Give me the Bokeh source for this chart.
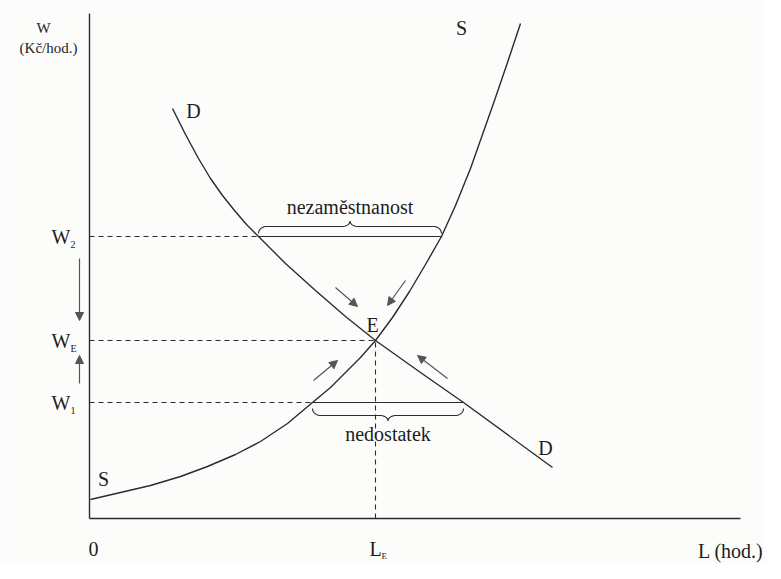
import numpy as np
from bokeh.plotting import figure
from bokeh.models import Range1d, Arrow, NormalHead
from bokeh.core.properties import value
from bokeh.embed import file_html
from bokeh.resources import INLINE

# ---- data (L in hours, W in Kč/hod., arbitrary units) ----
supply_L = [0.1, 3.1, 6.1, 9.1, 11.8, 14.6, 17.1, 19.8, 22.3, 24.1, 25.6, 27.1,
            28.6, 30.3, 32.0, 33.6, 35.2, 36.6, 38.1, 39.3, 40.5, 41.8, 43.1]
supply_W = [1.9, 2.6, 3.3, 4.2, 5.2, 6.4, 7.7, 9.5, 11.6, 13.1, 14.6, 16.1,
            17.8, 20.1, 22.7, 25.4, 28.2, 31.3, 35.0, 38.4, 41.8, 45.6, 49.5]
demand_L = [8.3, 9.6, 10.9, 12.1, 13.3, 14.5, 15.7, 16.9, 19.6, 22.6, 25.6,
            28.6, 33.1, 37.4, 46.3]
demand_W = [41.0, 38.4, 36.0, 34.0, 32.3, 30.8, 29.4, 28.2, 25.5, 22.8, 20.2,
            17.8, 14.6, 11.6, 5.1]

L_E, W_E = 28.6, 17.8          # equilibrium
W_2, W_1 = 28.2, 11.6          # wage above / below equilibrium
L_D_W2, L_S_W2 = 16.9, 35.2    # demand / supply at W2 (unemployment)
L_S_W1, L_D_W1 = 22.3, 37.4    # supply / demand at W1 (shortage)

# adjustment arrows (start L, start W, end L, end W)
arrow_x0 = [24.6, 31.6, 22.4, 35.8]
arrow_y0 = [23.1, 23.8, 13.8, 14.0]
arrow_x1 = [26.8, 29.8, 24.8, 32.8]
arrow_y1 = [21.2, 21.3, 15.8, 16.3]

AXIS_TOP = 50.5
AXIS_RIGHT = 65.1

INK = "#2b2b2b"
FONT = value("Liberation Serif")

p = figure(width=765, height=563, output_backend="svg", toolbar_location=None,
           x_range=Range1d(-8.9, 67.6), y_range=Range1d(-4.5, 51.8),
           x_axis_type=None, y_axis_type=None, min_border=0,
           background_fill_color="#fcfcfb", border_fill_color="#fcfcfb")
p.grid.visible = False
p.outline_line_color = None

# axes
p.line([0, 0], [0, AXIS_TOP], line_color=INK, line_width=1.4)
p.line([0, AXIS_RIGHT], [0, 0], line_color=INK, line_width=1.4)

# dashed guides
dash = "5 4"
p.line([0, L_D_W2], [W_2, W_2], line_color=INK, line_width=1.1, line_dash=dash)
p.line([0, L_E], [W_E, W_E], line_color=INK, line_width=1.1, line_dash=dash)
p.line([0, L_S_W1], [W_1, W_1], line_color=INK, line_width=1.1, line_dash=dash)
p.line([L_E, L_E], [0, W_E], line_color=INK, line_width=1.1, line_dash=dash)

# solid gaps
p.line([L_D_W2, L_S_W2], [W_2, W_2], line_color=INK, line_width=1.2)
p.line([L_S_W1, L_D_W1], [W_1, W_1], line_color=INK, line_width=1.2)

# curves
p.line(supply_L, supply_W, line_color=INK, line_width=1.4, line_join="round")
p.line(demand_L, demand_W, line_color=INK, line_width=1.4, line_join="round")


def brace(x0, x1, y0, d):
    """curly brace from x0 to x1, ends at y0, opening toward sign of d"""
    h1, h2, r = 0.7 * d, 1.25 * d, 0.8
    xm = (x0 + x1) / 2
    t = np.linspace(0, np.pi / 2, 12)
    xs, ys = [], []
    xs += list(x0 + r * (1 - np.cos(t))); ys += list(y0 + h1 * np.sin(t))
    xs += list(xm - r + r * np.sin(t)); ys += list(y0 + h1 + (h2 - h1) * (1 - np.cos(t)))
    xs += list(xm + r - r * np.sin(t[::-1])); ys += list(y0 + h1 + (h2 - h1) * (1 - np.cos(t[::-1])))
    xs += list(x1 - r * (1 - np.cos(t[::-1]))); ys += list(y0 + h1 * np.sin(t[::-1]))
    return xs, ys


bx, by = brace(L_D_W2, L_S_W2, W_2 + 0.3, 1.0)
p.line(bx, by, line_color=INK, line_width=1.1)
bx, by = brace(L_S_W1, L_D_W1, W_1 - 0.6, -1.0)
p.line(bx, by, line_color=INK, line_width=1.1)

# arrows
AC = "#555"
for xs, ys, xe, ye in zip(arrow_x0, arrow_y0, arrow_x1, arrow_y1):
    p.add_layout(Arrow(end=NormalHead(size=8, fill_color=AC, line_color=AC),
                       x_start=xs, y_start=ys, x_end=xe, y_end=ye,
                       line_color=AC, line_width=1.2))
p.add_layout(Arrow(end=NormalHead(size=8, fill_color=AC, line_color=AC),
                   x_start=-1.0, y_start=W_2 - 2.2, x_end=-1.0, y_end=W_E + 2.0,
                   line_color=AC, line_width=1.2))
p.add_layout(Arrow(end=NormalHead(size=8, fill_color=AC, line_color=AC),
                   x_start=-1.0, y_start=W_1 + 1.9, x_end=-1.0, y_end=W_E - 1.5,
                   line_color=AC, line_width=1.2))


def txt(x, y, s, size="20px", align="center", baseline="middle"):
    p.text(x=[x], y=[y], text=[s], text_font=FONT, text_font_size=size,
           text_color="#1e1e1e", text_align=align, text_baseline=baseline)


# curve labels
txt(supply_L[-1] - 5.9, 49.1, "S")
txt(1.4, 4.0, "S")
txt(demand_L[0] + 2.1, 40.8, "D")
txt(demand_L[-1] - 0.7, 7.1, "D")
txt(L_E - 0.3, W_E + 1.6, "E")
txt((L_D_W2 + L_S_W2) / 2, W_2 + 3.0, "nezaměstnanost")
txt((L_S_W1 + L_D_W1) / 2, W_1 - 3.1, "nedostatek")

# axis labels
txt(-4.6, 49.1, "W", size="15px")
txt(-4.1, 47.1, "(Kč/hod.)", size="15px")
txt(0.4, -3.0, "0")
txt(L_E, -3.0, "L")
txt(L_E + 0.6, -3.7, "E", size="9px", align="left")
txt(67.4, -3.2, "L (hod.)", align="right")

for wv, sub in [(W_2, "2"), (W_E, "E"), (W_1, "1")]:
    txt(-1.9, wv, "W", align="right")
    txt(-1.9, wv - 0.8, sub, size="10px", align="left")

open("out.html", "w").write(file_html(p, INLINE))
